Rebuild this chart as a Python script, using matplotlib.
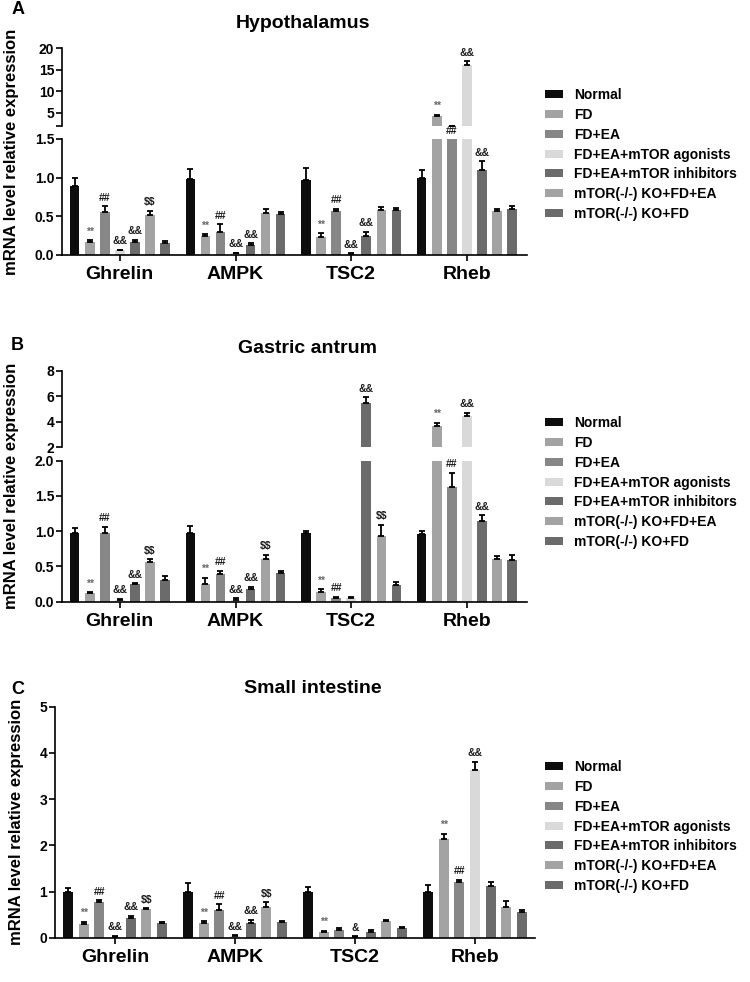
import matplotlib.pyplot as plt
import numpy as np

plt.rcParams['font.family'] = ['Liberation Sans', 'DejaVu Sans']
plt.rcParams['font.weight'] = 'bold'

# categories and groups
genes = ['Ghrelin', 'AMPK', 'TSC2', 'Rheb']
groups = ['Normal', 'FD', 'FD+EA', 'FD+EA+mTOR agonists', 'FD+EA+mTOR inhibitors',
          'mTOR(-/-) KO+FD+EA', 'mTOR(-/-) KO+FD']
colors = ['#0d0d0d', '#a3a3a3', '#878787', '#d9d9d9', '#6b6b6b', '#a3a3a3', '#6b6b6b']

# Hypothalamus (rows = genes, cols = groups)
hypo_mean = [[0.89, 0.17, 0.55, 0.06, 0.165, 0.52, 0.16],
             [0.98, 0.25, 0.30, 0.02, 0.13, 0.54, 0.53],
             [0.97, 0.235, 0.565, 0.01, 0.24, 0.58, 0.58],
             [1.00, 4.2, 1.9, 16.0, 1.10, 0.565, 0.59]]
hypo_err = [[0.11, 0.025, 0.08, 0.01, 0.03, 0.05, 0.02],
            [0.13, 0.02, 0.10, 0.01, 0.02, 0.06, 0.02],
            [0.15, 0.05, 0.035, 0.01, 0.06, 0.035, 0.03],
            [0.10, 0.4, 0.1, 1.0, 0.11, 0.035, 0.05]]
hypo_sig = [['', '**', '##', '&&', '&&', '$$', ''],
            ['', '**', '##', '&&', '&&', '', ''],
            ['', '**', '##', '&&', '&&', '', ''],
            ['', '**', '##', '&&', '&&', '', '']]

# Gastric antrum
gast_mean = [[0.98, 0.12, 0.97, 0.03, 0.245, 0.57, 0.31],
             [0.98, 0.255, 0.40, 0.03, 0.18, 0.61, 0.405],
             [0.97, 0.14, 0.055, 0.05, 5.48, 0.93, 0.235],
             [0.96, 3.65, 1.62, 4.46, 1.14, 0.60, 0.59]]
gast_err = [[0.06, 0.015, 0.09, 0.01, 0.015, 0.03, 0.05],
            [0.09, 0.085, 0.04, 0.02, 0.03, 0.055, 0.035],
            [0.03, 0.04, 0.015, 0.015, 0.45, 0.16, 0.05],
            [0.04, 0.29, 0.21, 0.24, 0.085, 0.05, 0.075]]
gast_sig = [['', '**', '##', '&&', '&&', '$$', ''],
            ['', '**', '##', '&&', '&&', '$$', ''],
            ['', '**', '##', '', '&&', '$$', ''],
            ['', '**', '##', '&&', '&&', '', '']]

# Small intestine
int_mean = [[0.98, 0.30, 0.765, 0.02, 0.425, 0.62, 0.31],
            [0.99, 0.325, 0.61, 0.035, 0.325, 0.67, 0.34],
            [0.99, 0.13, 0.17, 0.01, 0.13, 0.37, 0.215],
            [0.98, 2.13, 1.20, 3.64, 1.125, 0.67, 0.555]]
int_err = [[0.09, 0.045, 0.045, 0.02, 0.05, 0.02, 0.035],
           [0.19, 0.035, 0.11, 0.015, 0.065, 0.095, 0.03],
           [0.115, 0.02, 0.03, 0.02, 0.045, 0.015, 0.015],
           [0.16, 0.12, 0.05, 0.17, 0.08, 0.13, 0.05]]
int_sig = [['', '**', '##', '&&', '&&', '$$', ''],
           ['', '**', '##', '&&', '&&', '$$', ''],
           ['', '**', '', '&', '', '', ''],
           ['', '**', '##', '&&', '', '', '']]

step = 0.13
width = 0.082
W, H = 750, 982


def fig_rect(left, top, right, bottom):
    return [left / W, 1 - bottom / H, (right - left) / W, (bottom - top) / H]


def style_axis(ax, xlim):
    ax.set_xlim(*xlim)
    for s in ['top', 'right']:
        ax.spines[s].set_visible(False)
    for s in ['left', 'bottom']:
        ax.spines[s].set_linewidth(1.2)
    ax.tick_params(axis='y', labelsize=10, width=1.2, length=4, pad=1.5)
    ax.tick_params(axis='x', width=1.2, length=4, pad=4, labelsize=14)


def draw(axes, means, errs, sigs, xlim):
    x = np.arange(len(genes))
    lower = axes[-1]
    upper = axes[0] if len(axes) > 1 else None
    handles = []
    for ax in axes:
        for j in range(len(groups)):
            pos = x + (j - 3) * step
            m = np.array([row[j] for row in means])
            e = np.array([row[j] for row in errs])
            b = ax.bar(pos, m, width, color=colors[j], label=groups[j], zorder=2)
            ax.errorbar(pos, m, yerr=[np.zeros(len(m)), e], fmt='none', ecolor='black',
                        elinewidth=1.3, capsize=2.2, capthick=1.3, zorder=3)
            if ax is lower:
                handles.append(b)
        style_axis(ax, xlim)
    lo_top = lower.get_ylim()[1]
    for i in range(len(genes)):
        for j in range(len(groups)):
            s = sigs[i][j]
            if not s:
                continue
            xp = x[i] + (j - 3) * step
            top = means[i][j] + errs[i][j]
            if upper is not None and means[i][j] > upper.get_ylim()[0]:
                ax, yp = upper, top
            else:
                ax, yp = lower, min(top, lo_top)
            col = '#666666' if s == '**' else '#1a1a1a'
            ax.annotate(s.replace('$', r'\$'), (xp, yp), xytext=(0, 2.5),
                        textcoords='offset points', ha='center', va='bottom',
                        fontsize=7.5, color=col, annotation_clip=False)
    lower.set_xticks(x)
    lower.set_xticklabels(genes)
    if upper is not None:
        upper.spines['bottom'].set_visible(False)
        upper.set_xticks([])
    return handles


fig = plt.figure(figsize=(7.5, 9.82), dpi=100)

# Panel A
a_up = fig.add_axes(fig_rect(62, 48, 527, 126))
a_lo = fig.add_axes(fig_rect(62, 139, 527, 255))
a_up.set_ylim(2, 20)
a_lo.set_ylim(0, 1.5)
hA = draw([a_up, a_lo], hypo_mean, hypo_err, hypo_sig, (-0.5, 3.52))
a_up.set_yticks([2, 5, 10, 15, 20])
a_up.set_yticklabels(['', '5', '10', '15', '20'])
a_lo.set_yticks([0, 0.5, 1.0, 1.5])
a_lo.set_yticklabels(['0.0', '0.5', '1.0', '1.5'])

# Panel B
b_up = fig.add_axes(fig_rect(62, 371, 527, 447.3))
b_lo = fig.add_axes(fig_rect(62, 460.7, 527, 601.7))
b_up.set_ylim(2, 8)
b_lo.set_ylim(0, 2)
hB = draw([b_up, b_lo], gast_mean, gast_err, gast_sig, (-0.5, 3.52))
b_up.set_yticks([2, 4, 6, 8])
b_lo.set_yticks([0, 0.5, 1.0, 1.5, 2.0])
b_lo.set_yticklabels(['0.0', '0.5', '1.0', '1.5', '2.0'])

# Panel C
c_ax = fig.add_axes(fig_rect(55, 706.7, 535, 937.7))
c_ax.set_ylim(0, 5)
hC = draw([c_ax], int_mean, int_err, int_sig, (-0.5, 3.5))
c_ax.set_yticks([0, 1, 2, 3, 4, 5])

# titles, panel letters, y labels, legends
titles = [('Hypothalamus', 303, 28), ('Gastric antrum', 308, 353), ('Small intestine', 313, 693)]
for t, xt, yt in titles:
    fig.text(xt / W, 1 - yt / H, t, ha='center', va='baseline', fontsize=14)
for letter, xl, yl in [('A', 18, 9), ('B', 17, 345), ('C', 18, 689)]:
    fig.text(xl / W, 1 - yl / H, letter, ha='center', va='center', fontsize=13)
for xl, yl in [(12, 151.5), (12, 486), (17, 822)]:
    fig.text(xl / W, 1 - yl / H, 'mRNA level relative expression', rotation=90,
             ha='center', va='center', fontsize=12)

for handles, ytop in [(hA, 88), (hB, 416), (hC, 760)]:
    fig.legend(handles, groups, loc='upper left', bbox_to_anchor=(545 / W, 1 - ytop / H),
               bbox_transform=fig.transFigure, frameon=False, fontsize=10,
               handlelength=1.3, handleheight=0.5, handletextpad=0.8,
               labelspacing=0.42, borderpad=0, borderaxespad=0)

fig.savefig('out.png', dpi=100)
